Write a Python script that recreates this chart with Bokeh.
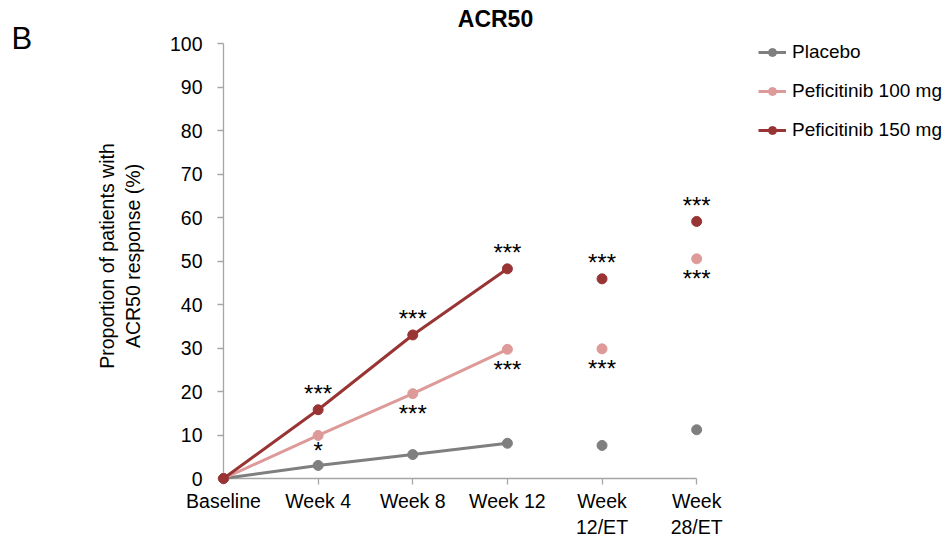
from bokeh.plotting import figure
from bokeh.models import Range1d, FixedTicker, Legend, LegendItem, ColumnDataSource
from bokeh.core.properties import value
from bokeh.embed import file_html
from bokeh.resources import INLINE

# ---- data ----
categories = ["Baseline", "Week 4", "Week 8", "Week 12", "Week\n12/ET", "Week\n28/ET"]
xpos = [0, 1, 2, 3, 4, 5]
placebo = [0, 3.0, 5.5, 8.1, 7.6, 11.2]
pef100 = [0, 9.9, 19.5, 29.7, 29.8, 50.5]
pef150 = [0, 15.8, 33.0, 48.2, 45.9, 59.1]
sig100 = ["", "*", "***", "***", "***", "***"]
sig150 = ["", "***", "***", "***", "***", "***"]
series_names = ["Placebo", "Peficitinib 100 mg", "Peficitinib 150 mg"]
yticks = list(range(0, 101, 10))
title_text = "ACR50"
panel_letter = "B"

colors = ["#7f7f7f", "#dd9a99", "#993434"]
FONT = "Liberation Sans"

p = figure(width=946, height=540, output_backend="svg", toolbar_location=None,
           x_range=Range1d(0, 7.64), y_range=Range1d(0, 102.3),
           min_border_left=223, min_border_right=0, min_border_top=33, min_border_bottom=62)
p.outline_line_color = None
p.xgrid.visible = False
p.ygrid.visible = False
p.background_fill_color = "white"
p.border_fill_color = "white"

# axes
for ax in (p.xaxis[0], p.yaxis[0]):
    ax.axis_line_color = "#a6a6a6"
    ax.axis_line_width = 1.3
    ax.major_tick_line_color = "#a6a6a6"
    ax.major_tick_line_width = 1.3
    ax.minor_tick_line_color = None
    ax.major_tick_in = 0
    ax.major_tick_out = 6
    ax.major_label_text_font = FONT
    ax.major_label_text_font_size = "19.5px"
    ax.major_label_text_color = "black"

p.xaxis.ticker = FixedTicker(ticks=xpos)
p.xaxis.major_label_overrides = {x: c for x, c in zip(xpos, categories)}
p.xaxis.bounds = (0, 5)
p.xaxis.major_label_standoff = 5

p.yaxis.ticker = FixedTicker(ticks=yticks)
p.yaxis.bounds = (0, 100)
p.yaxis.major_label_standoff = 15
p.yaxis.axis_label = "Proportion of patients with\nACR50 response (%)"
p.yaxis.axis_label_text_font = FONT
p.yaxis.axis_label_text_font_size = "19.5px"
p.yaxis.axis_label_text_font_style = "normal"
p.yaxis.axis_label_text_color = "black"
p.yaxis.axis_label_standoff = 23

items = []
for name, vals, col in zip(series_names, [placebo, pef100, pef150], colors):
    ln = p.line(xpos[:4], vals[:4], line_color=col, line_width=3, level="overlay")
    sc = p.scatter(xpos, vals, size=10, fill_color=col, line_color=col, level="overlay")
    items.append(LegendItem(label=name, renderers=[ln, sc]))

# significance markers
star_style = dict(text_font=value(FONT), text_font_size="24px", text_align="center",
                  text_baseline="middle", text_color="black", level="overlay")
src150 = ColumnDataSource(dict(x=xpos, y=pef150, t=sig150))
p.text(x="x", y="y", text="t", source=src150, y_offset=-16, **star_style)
triple_100 = [t if t == "***" else "" for t in sig100]
single_100 = [t if t == "*" else "" for t in sig100]
src100 = ColumnDataSource(dict(x=xpos, y=pef100, t=triple_100))
p.text(x="x", y="y", text="t", source=src100, y_offset=20, **star_style)
src100s = ColumnDataSource(dict(x=xpos, y=pef100, t=single_100))
p.text(x="x", y="y", text="t", source=src100s, y_offset=15, **star_style)

legend = Legend(items=items, location=(535, 337), padding=0, margin=0, spacing=17,
                glyph_width=28, glyph_height=20, label_height=20, label_standoff=6,
                label_text_font=FONT, label_text_font_size="19px", label_text_color="black",
                border_line_color=None, background_fill_alpha=0)
p.add_layout(legend, "center")

# title and panel letter, anchored at the top-left corner of the axes (x=0, y=100)
top_src = ColumnDataSource(dict(x=[xpos[0]], y=[yticks[-1]]))
p.text(x="x", y="y", text=value(title_text), source=top_src, x_offset=272, y_offset=-25,
       text_font=value(FONT), text_font_size="23px", text_font_style="bold",
       text_align="center", text_baseline="alphabetic", text_color="black", level="overlay")
p.text(x="x", y="y", text=value(panel_letter), source=top_src, x_offset=-212, y_offset=-5,
       text_font=value(FONT), text_font_size="31px",
       text_align="left", text_baseline="alphabetic", text_color="black", level="overlay")

open("out.html", "w").write(file_html(p, INLINE))
